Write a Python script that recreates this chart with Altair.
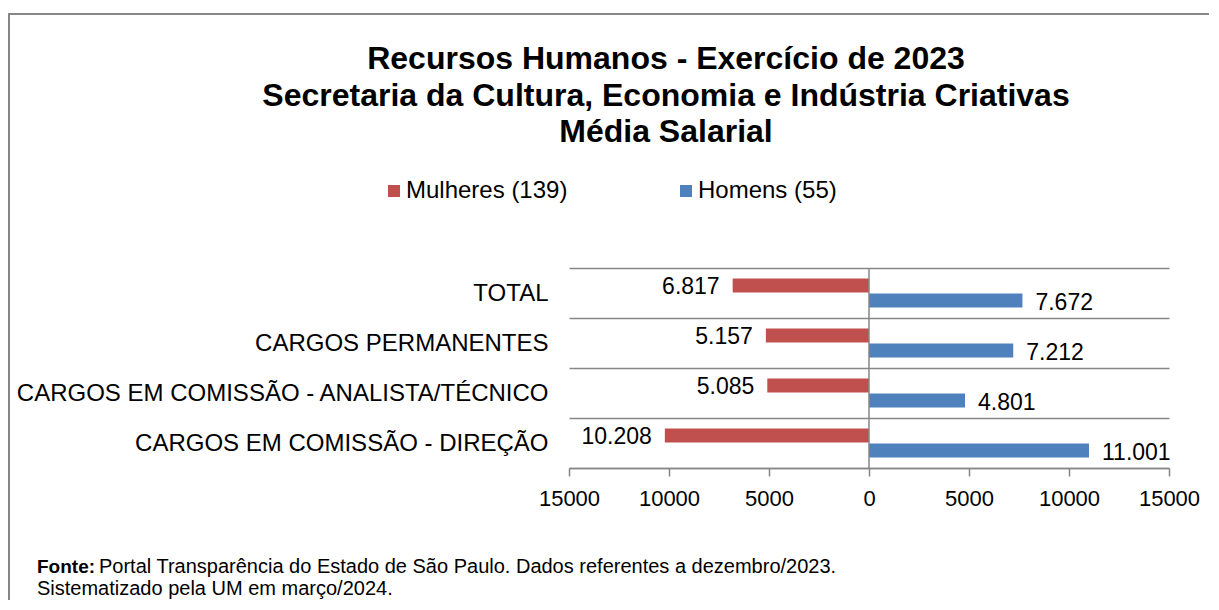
import altair as alt
import pandas as pd

FONT = "Liberation Sans, Arial, sans-serif"

categories = [
    "TOTAL",
    "CARGOS PERMANENTES",
    "CARGOS EM COMISSÃO - ANALISTA/TÉCNICO",
    "CARGOS EM COMISSÃO - DIREÇÃO",
]
mulheres = [6817, 5157, 5085, 10208]
homens = [7672, 7212, 4801, 11001]
series = ["Mulheres (139)", "Homens (55)"]
colors = ["#C0504D", "#4F81BD"]
x_ticks = [-15000, -10000, -5000, 0, 5000, 10000, 15000]
title_lines = [
    "Recursos Humanos - Exercício de 2023",
    "Secretaria da Cultura, Economia e Indústria Criativas",
    "Média Salarial",
]
source_bold = ["Fonte:"]
source_line1 = ["Portal Transparência do Estado de São Paulo. Dados referentes a dezembro/2023."]
source_line2 = ["Sistematizado pela UM em março/2024."]

rows = []
for c, m, h in zip(categories, mulheres, homens):
    rows.append({"cat": c, "serie": series[0], "valor": m, "signed": -m})
    rows.append({"cat": c, "serie": series[1], "valor": h, "signed": h})
df = pd.DataFrame(rows)
df["rotulo"] = df["valor"].map(lambda v: f"{v:,}".replace(",", "."))

GRID = "#868686"

y_enc = alt.Y(
    "cat:N",
    sort=categories,
    scale=alt.Scale(paddingInner=0, paddingOuter=0),
    axis=alt.Axis(
        title=None, grid=True, tickBand="extent", domain=False, ticks=False,
        tickSize=0, labelPadding=21, labelFontSize=24, labelLimit=0,
        labelFont=FONT, labelColor="black", gridColor=GRID, gridWidth=1.5,
    ),
)
yoff_enc = alt.YOffset(
    "serie:N", sort=series,
    scale=alt.Scale(paddingInner=0, paddingOuter=0.667),
)
x_enc = alt.X(
    "signed:Q",
    scale=alt.Scale(domain=[-15000, 15000], nice=False, zero=False),
    axis=alt.Axis(
        title=None, values=x_ticks, labelExpr="abs(datum.value)", grid=False,
        labelFlush=False, labelOverlap=False,
        domainColor=GRID, domainWidth=1.5, tickColor=GRID, tickWidth=1.5,
        tickSize=8, labelPadding=12, labelFontSize=22, labelFont=FONT,
        labelColor="black",
    ),
)
color_enc = alt.Color(
    "serie:N",
    sort=series,
    scale=alt.Scale(domain=series, range=colors),
    legend=alt.Legend(
        title=None, orient="none", legendX=-187, legendY=-89, padding=0,
        direction="horizontal", symbolType="square", symbolSize=144,
        symbolStrokeWidth=0, labelFontSize=24, labelFont=FONT,
        labelColor="black", columnPadding=106, labelOffset=0, labelLimit=400,
    ),
)

base = alt.Chart(df)

bars = base.mark_bar(size=14).encode(
    y=y_enc, yOffset=yoff_enc, x=x_enc, color=color_enc
)

txt_w = base.transform_filter(alt.datum.serie == series[0]).mark_text(
    align="right", baseline="middle", dx=-13, dy=1, fontSize=23, font=FONT, color="black"
).encode(y=y_enc, yOffset=yoff_enc, x=x_enc, text="rotulo:N")

txt_m = base.transform_filter(alt.datum.serie == series[1]).mark_text(
    align="left", baseline="middle", dx=13, dy=3, fontSize=23, font=FONT, color="black"
).encode(y=y_enc, yOffset=yoff_enc, x=x_enc, text="rotulo:N")

zero = alt.Chart(pd.DataFrame({"signed": [0]})).mark_rule(
    color=GRID, strokeWidth=1.5
).encode(x="signed:Q")

frame = alt.Chart(pd.DataFrame({"a": [0]})).mark_rect(
    fillOpacity=0, stroke=GRID, strokeWidth=2
).encode(
    x=alt.value(-560), x2=alt.value(1200), y=alt.value(-254), y2=alt.value(700)
)

foot_b = alt.Chart(pd.DataFrame({"t": source_bold})).mark_text(
    align="left", baseline="middle", fontSize=19, font=FONT, fontWeight="bold", color="black"
).encode(text="t:N", x=alt.value(-532), y=alt.value(299))

foot_1 = alt.Chart(pd.DataFrame({"t": source_line1})).mark_text(
    align="left", baseline="middle", fontSize=20, font=FONT, color="black"
).encode(text="t:N", x=alt.value(-532 + 62), y=alt.value(299))

foot_2 = alt.Chart(pd.DataFrame({"t": source_line2})).mark_text(
    align="left", baseline="middle", fontSize=20, font=FONT, color="black"
).encode(text="t:N", x=alt.value(-532), y=alt.value(321))

chart = alt.layer(frame, bars, zero, txt_w, txt_m, foot_b, foot_1, foot_2).properties(
    width=600,
    height=200,
    title=alt.TitleParams(
        text=title_lines, fontSize=32, fontWeight="bold", font=FONT,
        color="black", anchor="middle", dx=-203, offset=-136, lineHeight=36.5,
    ),
    padding={"left": 561, "top": 260, "right": 40, "bottom": 132},
    autosize=alt.AutoSizeParams(type="none"),
    background="white",
).configure_view(stroke=None)

chart.save("out.html", embed_options={"renderer": "svg", "actions": False})
